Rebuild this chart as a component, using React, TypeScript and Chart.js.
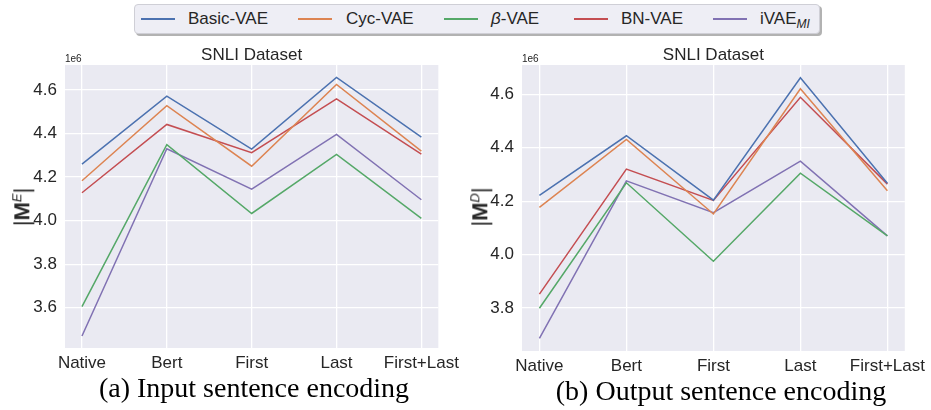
import React, { useEffect, useRef } from 'react';
import { Chart, registerables } from 'chart.js';
Chart.register(...registerables);

const categories = ['Native', 'Bert', 'First', 'Last', 'First+Last'];
const seriesNames = ['Basic-VAE', 'Cyc-VAE', 'β-VAE', 'BN-VAE', 'iVAE_MI'];
const seriesColors = ['#4C72B0', '#DD8452', '#55A868', '#C44E52', '#8172B3'];

// (a) Input sentence encoding
const inputBasicVAE = [4.26, 4.572, 4.329, 4.658, 4.384];
const inputCycVAE = [4.183, 4.528, 4.25, 4.626, 4.319];
const inputBetaVAE = [3.605, 4.349, 4.033, 4.304, 4.01];
const inputBNVAE = [4.128, 4.442, 4.312, 4.559, 4.306];
const inputIVAE = [3.47, 4.33, 4.145, 4.396, 4.096];

// (b) Output sentence encoding
const outputBasicVAE = [4.222, 4.445, 4.204, 4.662, 4.267];
const outputCycVAE = [4.177, 4.431, 4.152, 4.621, 4.239];
const outputBetaVAE = [3.799, 4.269, 3.975, 4.305, 4.07];
const outputBNVAE = [3.852, 4.32, 4.203, 4.589, 4.264];
const outputIVAE = [3.686, 4.276, 4.157, 4.35, 4.07];

const yTickValues = [3.6, 3.8, 4.0, 4.2, 4.4, 4.6];

const TXT = '#262626';
const FONT = "'Liberation Sans', Arial, sans-serif";

type PanelProps = {
  series: number[][];
  yMin: number;
  yMax: number;
  width: number;
  height: number;
  yAxisWidth: number;
  xAxisHeight: number;
  padRight: number;
  padTop: number;
  style: React.CSSProperties;
};

const panelPlugin = {
  id: 'panelDecor',
  beforeDraw(chart: any) {
    const { ctx, chartArea } = chart;
    ctx.save();
    ctx.fillStyle = '#EAEAF2';
    ctx.fillRect(chartArea.left, chartArea.top, chartArea.right - chartArea.left, chartArea.bottom - chartArea.top);
    ctx.restore();
  },
  afterDraw(chart: any) {
    const { ctx, chartArea } = chart;
    ctx.save();
    ctx.fillStyle = TXT;
    ctx.textBaseline = 'alphabetic';
    ctx.font = `17px ${FONT}`;
    ctx.textAlign = 'center';
    ctx.fillText('SNLI Dataset', (chartArea.left + chartArea.right) / 2, chartArea.top - 5);
    ctx.font = `10px ${FONT}`;
    ctx.textAlign = 'left';
    ctx.fillText('1e6', chartArea.left, chartArea.top - 3);
    ctx.restore();
  },
};

function Panel(p: PanelProps) {
  const ref = useRef<HTMLCanvasElement>(null);
  useEffect(() => {
    const chart = new Chart(ref.current!, {
      type: 'line',
      data: {
        datasets: p.series.map((vals, si) => ({
          label: seriesNames[si],
          data: vals.map((v, i) => ({ x: i, y: v })),
          borderColor: seriesColors[si],
          backgroundColor: seriesColors[si],
          borderWidth: 1.5,
          pointRadius: 0,
          tension: 0,
          fill: false,
        })),
      },
      options: {
        animation: false,
        responsive: false,
        layout: { padding: { left: 0, right: p.padRight, top: p.padTop, bottom: 0 } },
        plugins: { legend: { display: false }, tooltip: { enabled: false }, title: { display: false } },
        scales: {
          x: {
            type: 'linear',
            min: -0.2,
            max: 4.2,
            afterBuildTicks: (s: any) => {
              s.ticks = categories.map((_, i) => ({ value: i }));
            },
            afterFit: (s: any) => {
              s.height = p.xAxisHeight;
            },
            ticks: {
              callback: (v: any) => categories[Math.round(Number(v))] ?? '',
              color: TXT,
              font: { family: FONT, size: 17 },
              padding: 5,
              maxRotation: 0,
              autoSkip: false,
            },
            grid: { color: '#FFFFFF', lineWidth: 1.3, drawTicks: false },
            border: { display: false },
          },
          y: {
            type: 'linear',
            min: p.yMin,
            max: p.yMax,
            afterBuildTicks: (s: any) => {
              s.ticks = yTickValues.filter((v) => v >= p.yMin && v <= p.yMax).map((v) => ({ value: v }));
            },
            afterFit: (s: any) => {
              s.width = p.yAxisWidth;
            },
            ticks: {
              callback: (v: any) => Number(v).toFixed(1),
              color: TXT,
              font: { family: FONT, size: 17 },
              padding: 8,
            },
            grid: { color: '#FFFFFF', lineWidth: 1.3, drawTicks: false },
            border: { display: false },
          },
        },
      },
      plugins: [panelPlugin],
    });
    return () => chart.destroy();
  }, []);
  return (
    <canvas
      ref={ref}
      width={p.width}
      height={p.height}
      style={{ position: 'absolute', width: p.width, height: p.height, ...p.style }}
    />
  );
}

function YLabel({ x, y, sup }: { x: number; y: number; sup: string }) {
  return (
    <div
      style={{
        position: 'absolute',
        left: x,
        top: y,
        transform: 'translate(-50%, -50%) rotate(-90deg)',
        whiteSpace: 'nowrap',
        fontFamily: FONT,
        fontSize: 22,
        color: TXT,
        lineHeight: '22px',
        zIndex: 2,
      }}
    >
      |<b>M</b>
      <sup style={{ fontStyle: 'italic', fontSize: 13 }}>{sup}</sup>|
    </div>
  );
}

const legendLines = [141, 298, 444, 574, 713];
const legendTexts = [188, 346, 491, 621, 760];

function Legend() {
  return (
    <div>
      <div
        style={{
          position: 'absolute',
          left: 134,
          top: 4,
          width: 686,
          height: 30,
          border: '1px solid #cfcfd6',
          borderRadius: 4,
          background: '#EEEEF5',
          boxShadow: '2px 2px 0 rgba(0,0,0,0.3)',
          boxSizing: 'border-box',
        }}
      />
      {seriesNames.map((name, i) => (
        <React.Fragment key={name}>
          <div
            style={{
              position: 'absolute',
              left: legendLines[i],
              top: 18,
              width: 34,
              height: 2,
              backgroundColor: seriesColors[i],
              zIndex: 3,
            }}
          />
          <div
            style={{
              position: 'absolute',
              left: legendTexts[i],
              top: 8,
              fontFamily: FONT,
              fontSize: 17,
              lineHeight: '22px',
              color: TXT,
              whiteSpace: 'nowrap',
              zIndex: 3,
            }}
          >
            {name === 'β-VAE' ? (
              <>
                <i>β</i>-VAE
              </>
            ) : name === 'iVAE_MI' ? (
              <>
                iVAE<sub style={{ fontStyle: 'italic', fontSize: 12 }}>MI</sub>
              </>
            ) : (
              name
            )}
          </div>
        </React.Fragment>
      ))}
    </div>
  );
}

function Caption({ x, y, text }: { x: number; y: number; text: string }) {
  return (
    <div
      style={{
        position: 'absolute',
        left: x,
        top: y,
        transform: 'translate(-50%, -50%)',
        whiteSpace: 'nowrap',
        fontFamily: "'Liberation Serif', 'Times New Roman', serif",
        fontSize: 28,
        lineHeight: '32px',
        color: '#000',
        zIndex: 2,
      }}
    >
      {text}
    </div>
  );
}

export default function App() {
  useEffect(() => {
    document.body.style.margin = '0';
  }, []);
  return (
    <div style={{ position: 'relative', width: 931, height: 410, background: '#fff', overflow: 'hidden' }}>
      <Panel
        series={[inputBasicVAE, inputCycVAE, inputBetaVAE, inputBNVAE, inputIVAE]}
        yMin={3.415}
        yMax={4.715}
        width={465}
        height={340}
        yAxisWidth={65}
        xAxisHeight={32}
        padRight={24}
        padTop={25}
        style={{ left: 0, top: 40 }}
      />
      <Panel
        series={[outputBasicVAE, outputCycVAE, outputBetaVAE, outputBNVAE, outputIVAE]}
        yMin={3.639}
        yMax={4.71}
        width={466}
        height={340}
        yAxisWidth={57}
        xAxisHeight={29}
        padRight={23}
        padTop={25}
        style={{ left: 465, top: 40 }}
      />
      <Legend />
      <YLabel x={20} y={207} sup="E" />
      <YLabel x={478} y={207} sup="D" />
      <Caption x={254} y={388} text="(a) Input sentence encoding" />
      <Caption x={721} y={391} text="(b) Output sentence encoding" />
    </div>
  );
}
